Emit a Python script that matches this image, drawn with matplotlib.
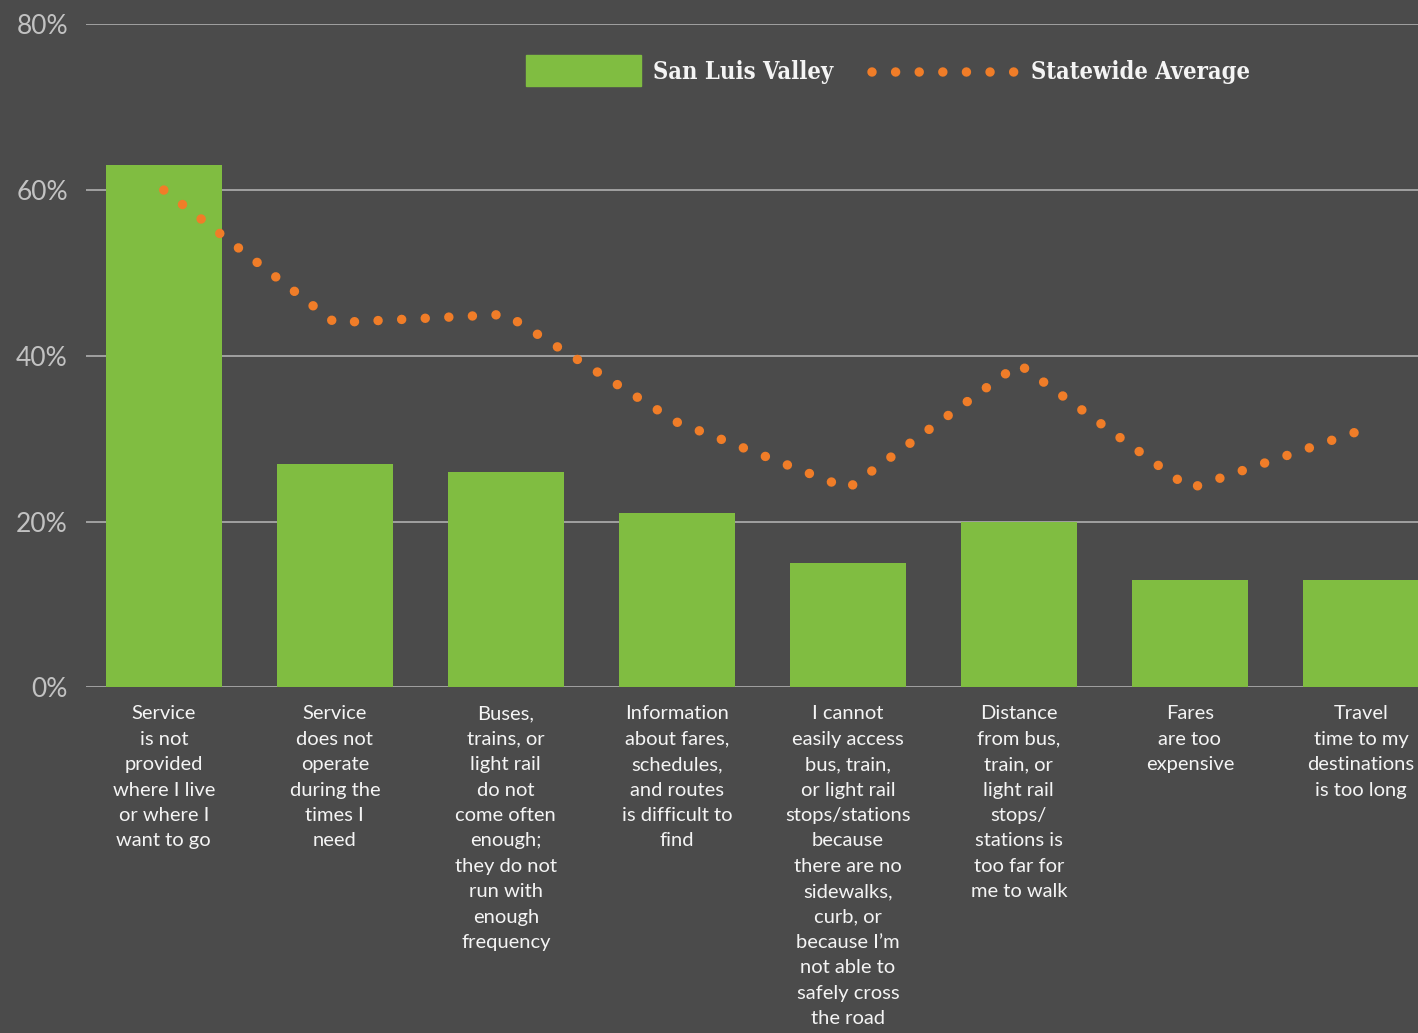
import matplotlib.pyplot as plt
import numpy as np
from matplotlib.lines import Line2D
from matplotlib.patches import Rectangle

categories = [
    "Service\nis not\nprovided\nwhere I live\nor where I\nwant to go",
    "Service\ndoes not\noperate\nduring the\ntimes I\nneed",
    "Buses,\ntrains, or\nlight rail\ndo not\ncome often\nenough;\nthey do not\nrun with\nenough\nfrequency",
    "Information\nabout fares,\nschedules,\nand routes\nis difficult to\nfind",
    "I cannot\neasily access\nbus, train,\nor light rail\nstops/stations\nbecause\nthere are no\nsidewalks,\ncurb, or\nbecause I\u2019m\nnot able to\nsafely cross\nthe road",
    "Distance\nfrom bus,\ntrain, or\nlight rail\nstops/\nstations is\ntoo far for\nme to walk",
    "Fares\nare too\nexpensive",
    "Travel\ntime to my\ndestinations\nis too long",
]
san_luis_valley = [63, 27, 26, 21, 15, 20, 13, 13]
statewide_avg = [60, 44, 45, 32, 24, 39, 24, 31]
y_ticks = [0, 20, 40, 60, 80]

BG = '#4b4b4b'
GREEN = '#80bd41'
ORANGE = '#f07d28'
GRID = '#a8a8a8'

W, H = 1418, 1033
fig = plt.figure(figsize=(W / 100, H / 100), dpi=100, facecolor=BG)
ax = fig.add_axes([86 / W, 1 - 687.3 / H, 1 - 86 / W, (687.3 - 24.3) / H])
ax.set_facecolor(BG)

x = np.arange(len(categories))
ax.bar(x, san_luis_valley, width=0.68, color=GREEN, zorder=2)

# dotted line for statewide average
dot_px = 9.5
dot_style = (0, (0.001, 23.6 / dot_px))
ax.plot(x, statewide_avg, color=ORANGE, lw=dot_px * 0.72,
        linestyle=dot_style, dash_capstyle='round', zorder=3)

ax.set_xlim(-0.455, 7.334)
ax.set_ylim(0, 80)
ax.set_yticks(y_ticks)
ax.set_yticklabels([f"{v}%" for v in y_ticks], fontfamily='Lato', fontweight='normal',
                   fontsize=19, color='#c2c2c2')
ax.set_xticks(x)
ax.set_xticklabels(categories, fontfamily='Lato', fontsize=14.5, color='#f4f4f4',
                   linespacing=1.60, va='top')
ax.tick_params(axis='both', length=0)
ax.tick_params(axis='y', pad=13)
ax.tick_params(axis='x', pad=13)
ax.grid(axis='y', color=GRID, lw=1.3, zorder=0)
ax.set_axisbelow(True)
for s in ax.spines.values():
    s.set_visible(False)

# legend, drawn by hand
legend_font = dict(fontfamily='DejaVu Serif', fontstretch='condensed', fontweight='bold',
                   fontsize=17, color='#f4f4f4', va='baseline', ha='left')
fig.add_artist(Rectangle((526 / W, 1 - 86 / H), 115 / W, 31 / H,
                         transform=fig.transFigure, color=GREEN))
fig.text(653 / W, 1 - 79.5 / H, "San Luis Valley", **legend_font)
fig.add_artist(Line2D([871.6 / W, 1013.5 / W], [1 - 71.5 / H, 1 - 71.5 / H],
                      transform=fig.transFigure, color=ORANGE, lw=dot_px * 0.72,
                      linestyle=dot_style, dash_capstyle='round'))
fig.text(1031 / W, 1 - 79.5 / H, "Statewide Average", **legend_font)

plt.savefig('out.png', dpi=100, facecolor=BG)
